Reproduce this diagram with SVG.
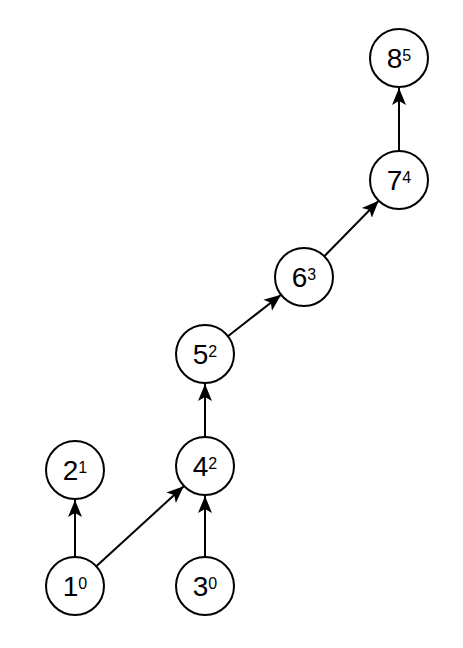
<svg xmlns="http://www.w3.org/2000/svg" width="463" height="648" viewBox="0 0 463 648">
<style>
.n circle{fill:#fff;stroke:#000;stroke-width:2}
.n text{font-family:"Liberation Sans",Arial,sans-serif;font-size:28px;fill:#000;text-anchor:middle}
.n tspan.s{font-size:16px}
.e line{stroke:#000;stroke-width:2;marker-end:url(#ah)}
</style>
<defs>
<marker id="ah" markerUnits="userSpaceOnUse" markerWidth="18" markerHeight="16" refX="17" refY="8" orient="auto">
<path d="M0,1 L17,8 L0,15 L4,8 z" fill="#000"/>
</marker>
</defs>
<rect width="463" height="648" fill="#fff"/>
<g id="edges" class="e">
<line x1="399" y1="151" x2="399" y2="88"/>
<line x1="324.3" y1="256.3" x2="378.7" y2="200.7"/>
<line x1="227.9" y1="336.2" x2="281.1" y2="294.8"/>
<line x1="205" y1="437" x2="205" y2="384"/>
<line x1="205" y1="557" x2="205" y2="496"/>
<line x1="96.3" y1="566.3" x2="183.7" y2="486.3"/>
<line x1="75" y1="557" x2="75" y2="500"/>
</g>
<g id="n8" class="n"><circle cx="399" cy="58" r="29"/><text x="399" y="68">8<tspan class="s" dy="-7">5</tspan></text></g>
<g id="n7" class="n"><circle cx="399" cy="180" r="29"/><text x="399" y="190">7<tspan class="s" dy="-7">4</tspan></text></g>
<g id="n6" class="n"><circle cx="304" cy="277" r="29"/><text x="304" y="287">6<tspan class="s" dy="-7">3</tspan></text></g>
<g id="n5" class="n"><circle cx="205" cy="354" r="29"/><text x="205" y="364">5<tspan class="s" dy="-7">2</tspan></text></g>
<g id="n4" class="n"><circle cx="205" cy="466" r="29"/><text x="205" y="476">4<tspan class="s" dy="-7">2</tspan></text></g>
<g id="n2" class="n"><circle cx="75" cy="470" r="29"/><text x="75" y="480">2<tspan class="s" dy="-7">1</tspan></text></g>
<g id="n1" class="n"><circle cx="75" cy="586" r="29"/><text x="75" y="596">1<tspan class="s" dy="-7">0</tspan></text></g>
<g id="n3" class="n"><circle cx="205" cy="586" r="29"/><text x="205" y="596">3<tspan class="s" dy="-7">0</tspan></text></g>
</svg>
